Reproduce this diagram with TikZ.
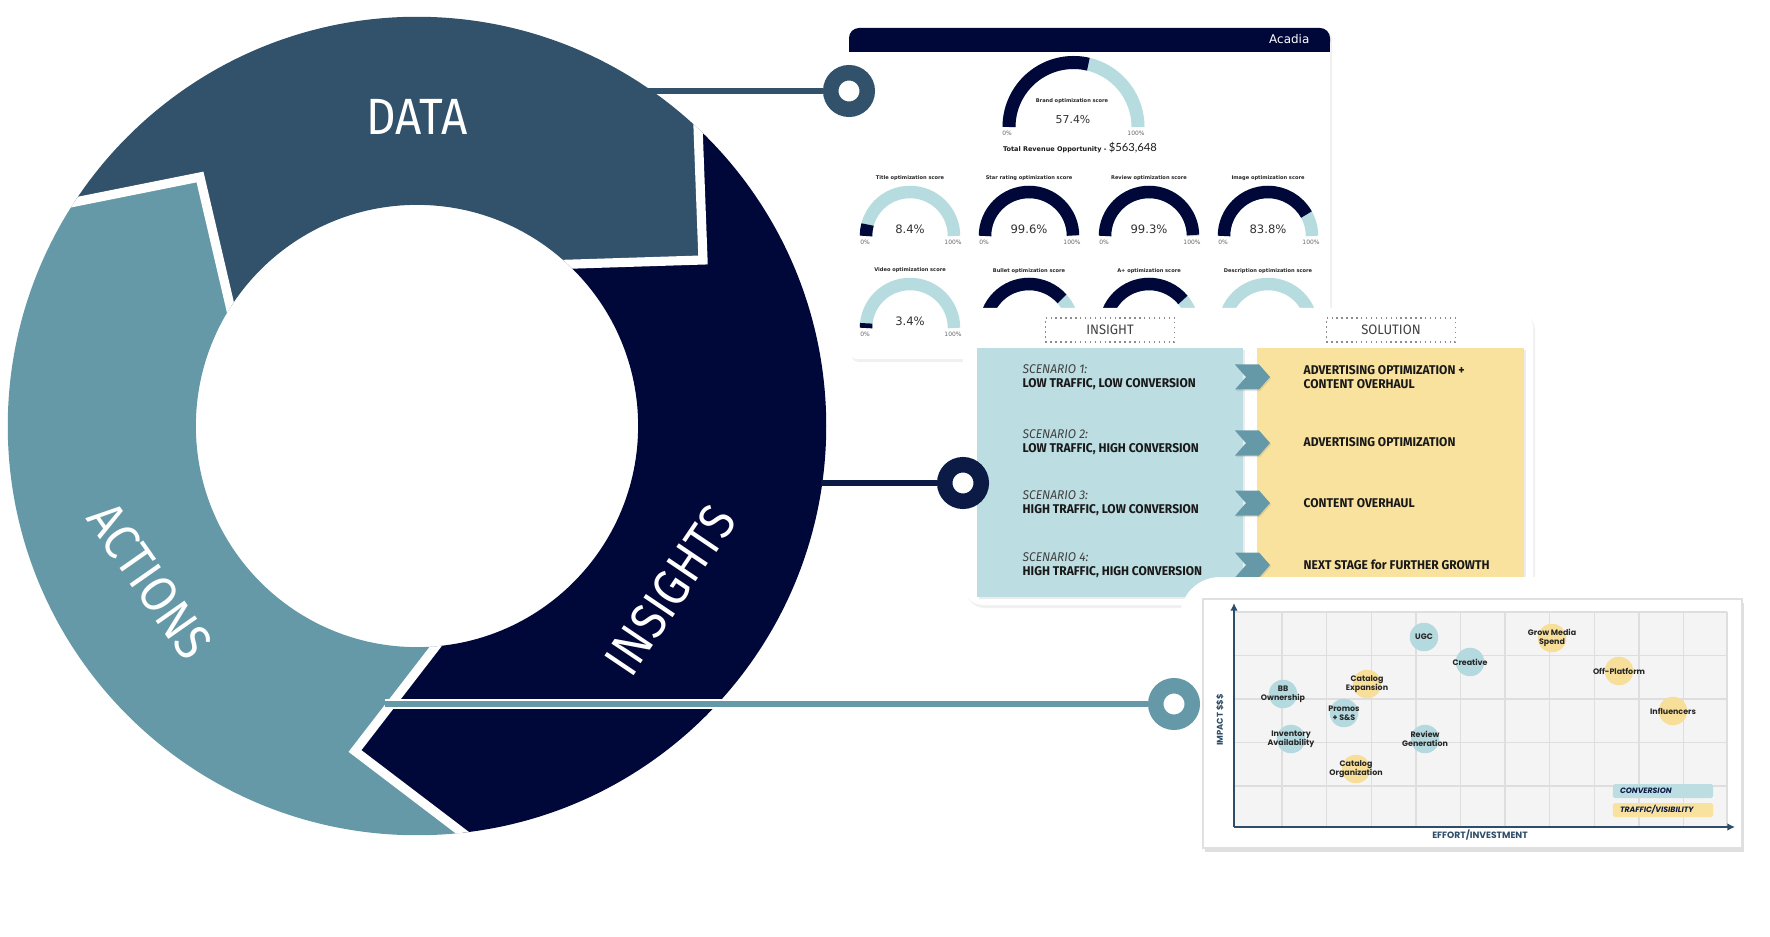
\documentclass[tikz,border=0pt]{standalone}
\usepackage{fontspec}
\setmainfont{DejaVu Sans}
\newfontfamily\ringfont{Fira Sans}[FakeStretch=0.9]
\newfontfamily\tabfont{Fira Sans}[FakeStretch=0.95]
\newfontfamily\plotfont{Poppins}
\newfontfamily\moneyfont{Lato}
\usetikzlibrary{positioning,shadows,arrows.meta}

\definecolor{datablue}{HTML}{32516A}
\definecolor{insnavy}{HTML}{000839}
\definecolor{actteal}{HTML}{6599A8}
\definecolor{knobnavy}{HTML}{0B1B45}
\definecolor{paleblue}{HTML}{BCDDE1}
\definecolor{paleyellow}{HTML}{F8E29E}
\definecolor{gaugelight}{HTML}{B7DCE0}
\definecolor{bubblue}{HTML}{B4D9DE}
\definecolor{bubyellow}{HTML}{F7DF99}
\definecolor{gridbg}{HTML}{F4F4F4}
\definecolor{gridline}{HTML}{DEDEDE}
\definecolor{axisblue}{HTML}{2E4D68}

\begin{document}
\begin{tikzpicture}[x=0.01cm,y=-0.01cm,
    gap/.style={white, line width=2.6pt, line join=miter},
    ringlabel/.style={text=white, inner sep=0pt, font=\ringfont\fontsize{14.5}{16}\selectfont},
    knob/.style={circle, draw=#1, line width=4.4pt, fill=white, minimum size=0.365cm, inner sep=0pt},
    link/.style={line width=1.9pt, draw=#1},
    card/.style={fill=white, drop shadow={opacity=0.12, shadow xshift=0.02cm, shadow yshift=-0.03cm}},
    gtitle/.style={inner sep=0pt, font=\bfseries\fontsize{1.45}{2}\selectfont, text=black!85},
    gvalue/.style={inner sep=0pt, font=\fontsize{3.3}{4}\selectfont, text=black!80},
    gend/.style={inner sep=0pt, font=\fontsize{1.7}{2}\selectfont, text=black!60},
    hdrbox/.style={draw=black!45, densely dotted, minimum width=1.29cm, minimum height=0.24cm, inner sep=0pt, text=black!75, font=\tabfont\fontsize{3.9}{4.5}\selectfont},
    scen/.style={anchor=west, align=left, inner sep=0pt, text=black!90, font=\tabfont\fontsize{3.6}{4}\selectfont},
    bubble/.style={circle, fill=#1, minimum size=0.285cm, inner sep=0pt},
    blab/.style={inner sep=0pt, align=center, text=black!85, font=\plotfont\bfseries\fontsize{2.25}{2.55}\selectfont},
    legbox/.style={minimum width=1cm, minimum height=0.14cm, inner sep=0pt, text width=0.86cm, align=left, rounded corners=0.5pt, text=knobnavy, font=\plotfont\bfseries\itshape\fontsize{2.2}{2.5}\selectfont},
    axlabel/.style={inner sep=0pt, text=axisblue, font=\plotfont\bfseries\fontsize{2.6}{3}\selectfont}]
\useasboundingbox (0,0) rectangle (1770,937);

% the cycle ring
\begin{scope}[even odd rule]
  \clip (417,426) circle[radius=4.09cm] (417,426) circle[radius=2.21cm];
  \fill[datablue] (-60,229) -- (200,177) -- (252,400) -- (480,267) -- (703,260) -- (691,-60) -- (-60,-60) -- cycle;
  \fill[insnavy] (691,-60) -- (703,260) -- (480,267) -- (480,589) -- (355,751) -- (560,907) -- (900,907) -- (900,-60) -- cycle;
  \fill[actteal] (-60,229) -- (200,177) -- (252,400) -- (480,589) -- (355,751) -- (560,907) -- (-60,907) -- cycle;
  \draw[gap] (-60,229) -- (200,177) -- (252,400);
  \draw[gap] (691,-60) -- (703,260) -- (480,267);
  \draw[gap] (480,589) -- (355,751) -- (560,907);
\end{scope}
\node[ringlabel] (datalbl) at (417,117) {DATA};
\node[ringlabel, rotate=56] (inslbl) at (670,590) {INSIGHTS};
\node[ringlabel, rotate=-55] (actlbl) at (150,581) {ACTIONS};

% dashboard
\fill[card, rounded corners=0.08cm] (849,28) rectangle (1330,359);
\fill[insnavy, rounded corners=0.1cm] (849,28) rectangle (1330,52);
\fill[insnavy] (849,40) rectangle (1330,52);
\node[inner sep=0pt, text=white, anchor=east, font=\fontsize{3.4}{4}\selectfont] (acadia) at (1310,39) {Acadia};
\draw[gaugelight, line width=3.7pt] (1009,127) arc[start angle=180, end angle=360, radius=64.5];
\draw[insnavy, line width=3.7pt] (1009,127) arc[start angle=180, end angle=283.3, radius=64.5];
\node[gtitle] (brandttl) at (1072,101) {Brand optimization score};
\node[gvalue, font=\fontsize{3.1}{4}\selectfont] (brandval) at (1073,120) {57.4\%};
\node[gend] (brandlo) at (1007,133) {0\%};
\node[gend] (brandhi) at (1136,133) {100\%};
\node[inner sep=0pt, text=black!90] (revenue) at (1080,148) {\bfseries\fontsize{1.85}{2}\selectfont Total Revenue Opportunity - \moneyfont\mdseries\fontsize{3.2}{4}\selectfont \$563,648};
\foreach \cx/\by/\v/\ttl/\val [count=\i] in {910/236/0.084/Title/8.4, 1029/236/0.996/Star rating/99.6, 1149/236/0.993/Review/99.3, 1268/236/0.838/Image/83.8, 910/328/0.034/Video/3.4}{
  \draw[gaugelight, line width=3.55pt] (\cx-44,\by) arc[start angle=180, end angle=360, radius=44];
  \draw[insnavy, line width=3.55pt] (\cx-44,\by) arc[start angle=180, end angle={180+180*\v}, radius=44];
  \node[gtitle] (gt\i) at (\cx,\by-58) {\ttl{} optimization score};
  \node[gvalue] (gv\i) at (\cx,\by-7) {\val\%};
  \node[gend] (glo\i) at (\cx-45,\by+6) {0\%};
  \node[gend] (ghi\i) at (\cx+43,\by+6) {100\%};
}
\foreach \cx/\v/\ttl [count=\i] in {1029/0.77/Bullet, 1149/0.78/A+, 1268/0.005/Description}{
  \draw[gaugelight, line width=3.55pt] (\cx-44,328) arc[start angle=180, end angle=360, radius=44];
  \draw[insnavy, line width=3.55pt] (\cx-44,328) arc[start angle=180, end angle={180+180*\v}, radius=44];
  \node[gtitle] (gb\i) at (\cx,271) {\ttl{} optimization score};
}

% insight / solution table
\fill[card, rounded corners=0.2cm] (963,308) rectangle (1533,605);
\node[hdrbox] (insighthdr) at (1110,330) {INSIGHT};
\node[hdrbox] (solutionhdr) at (1391,330) {SOLUTION};
\fill[paleblue, drop shadow={opacity=0.15, shadow xshift=0.015cm, shadow yshift=-0.02cm}] (977,348) rectangle (1243,597);
\fill[paleyellow, drop shadow={opacity=0.15, shadow xshift=0.015cm, shadow yshift=-0.02cm}] (1257,348) rectangle (1524,597);
\node[scen] (scen1) at (1022,377) {\textit{\color{black!75}SCENARIO 1:}\\\textbf{LOW TRAFFIC, LOW CONVERSION}};
\node[scen] (scen2) at (1022,442) {\textit{\color{black!75}SCENARIO 2:}\\\textbf{LOW TRAFFIC, HIGH CONVERSION}};
\node[scen] (scen3) at (1022,503) {\textit{\color{black!75}SCENARIO 3:}\\\textbf{HIGH TRAFFIC, LOW CONVERSION}};
\node[scen] (scen4) at (1022,565) {\textit{\color{black!75}SCENARIO 4:}\\\textbf{HIGH TRAFFIC, HIGH CONVERSION}};
\node[scen, font=\tabfont\bfseries\fontsize{3.6}{4}\selectfont] (sol1) at (1303,377) {ADVERTISING OPTIMIZATION +\\CONTENT OVERHAUL};
\node[scen, font=\tabfont\bfseries\fontsize{3.6}{4}\selectfont] (sol2) at (1303,442) {ADVERTISING OPTIMIZATION};
\node[scen, font=\tabfont\bfseries\fontsize{3.6}{4}\selectfont] (sol3) at (1303,503) {CONTENT OVERHAUL};
\node[scen, font=\tabfont\bfseries\fontsize{3.6}{4}\selectfont] (sol4) at (1303,565) {NEXT STAGE for FURTHER GROWTH};
\foreach \y in {377,443,503,565}
  \fill[actteal, drop shadow={opacity=0.2, shadow xshift=0.01cm, shadow yshift=-0.015cm}] (1235,\y-12.5) -- (1259,\y-12.5) -- (1270,\y) -- (1259,\y+12.5) -- (1235,\y+12.5) -- (1246,\y) -- cycle;

% impact / effort chart
\fill[white, rounded corners=0.4cm] (1180,577) rectangle (1760,866);
\filldraw[fill=white, draw=black!12, drop shadow={opacity=0.25, shadow xshift=0.02cm, shadow yshift=-0.035cm}] (1203,599) rectangle (1742,848);
\fill[gridbg] (1234,612) rectangle (1727,827);
\foreach \k in {0,...,9}
  \draw[gridline, line width=0.4pt] ({1282+44.6*\k},612) -- ({1282+44.6*\k},827);
\foreach \gy in {612,655.5,699,742.5,786}
  \draw[gridline, line width=0.4pt] (1234,\gy) -- (1727,\gy);
\draw[gridline, line width=0.4pt] (1727,612) -- (1727,827);
\coordinate (origin) at (1234,827);
\coordinate (ytip) at (1234,603);
\coordinate (xtip) at (1735,827);
\draw[axisblue, line width=0.6pt, -{Latex[length=2.2pt, width=2.2pt]}] (origin) -- (ytip);
\draw[axisblue, line width=0.6pt, -{Latex[length=2.2pt, width=2.2pt]}] (origin) -- (xtip);
\node[axlabel] (effort) at (1480,835) {EFFORT/INVESTMENT};
\node[axlabel, rotate=90, font=\plotfont\bfseries\fontsize{2.4}{3}\selectfont] (impact) at (1220,720) {IMPACT \$\$\$};
\node[bubble=bubblue, label={[blab]center:UGC}] (ugc) at (1424,637) {};
\node[bubble=bubblue, label={[blab]center:Creative}] (creative) at (1470,662) {};
\node[bubble=bubyellow, label={[blab]center:{Catalog\\Expansion}}] (catexp) at (1367,684) {};
\node[bubble=bubblue, label={[blab]center:{BB\\Ownership}}] (bbown) at (1283,694) {};
\node[bubble=bubblue, label={[blab]center:{Promos\\+ S\&S}}] (promos) at (1344,713) {};
\node[bubble=bubblue, label={[blab]center:{Inventory\\Availability}}] (inventory) at (1291,739) {};
\node[bubble=bubblue, label={[blab]center:{Review\\Generation}}] (review) at (1425,739) {};
\node[bubble=bubyellow, label={[blab]center:{Catalog\\Organization}}] (catorg) at (1356,769) {};
\node[bubble=bubyellow, label={[blab]center:{Grow Media\\Spend}}] (growmedia) at (1552,638) {};
\node[bubble=bubyellow, label={[blab]center:Off-Platform}] (offplat) at (1619,671) {};
\node[bubble=bubyellow, label={[blab]center:Influencers}] (influencers) at (1673,711) {};
\node[legbox, fill=paleblue] (legconv) at (1663,791) {CONVERSION};
\node[legbox, fill=paleyellow] (legtraffic) at (1663,810) {TRAFFIC/VISIBILITY};

% connectors from the ring to the panels
\coordinate (dataedge) at (646,91);
\coordinate (insedge) at (821,483);
\coordinate (actedge) at (385,704);
\node[knob=datablue] (dataknob) at (849,91) {};
\node[knob=knobnavy] (insknob) at (963,483) {};
\node[knob=actteal] (actknob) at (1174,704) {};
\draw[link=datablue] (dataedge) -- (dataknob);
\draw[link=knobnavy] (insedge) -- (insknob);
\draw[white, line width=2.7pt] (actedge) -- (actknob);
\draw[link=actteal] (actedge) -- (actknob);
\end{tikzpicture}
\end{document}
